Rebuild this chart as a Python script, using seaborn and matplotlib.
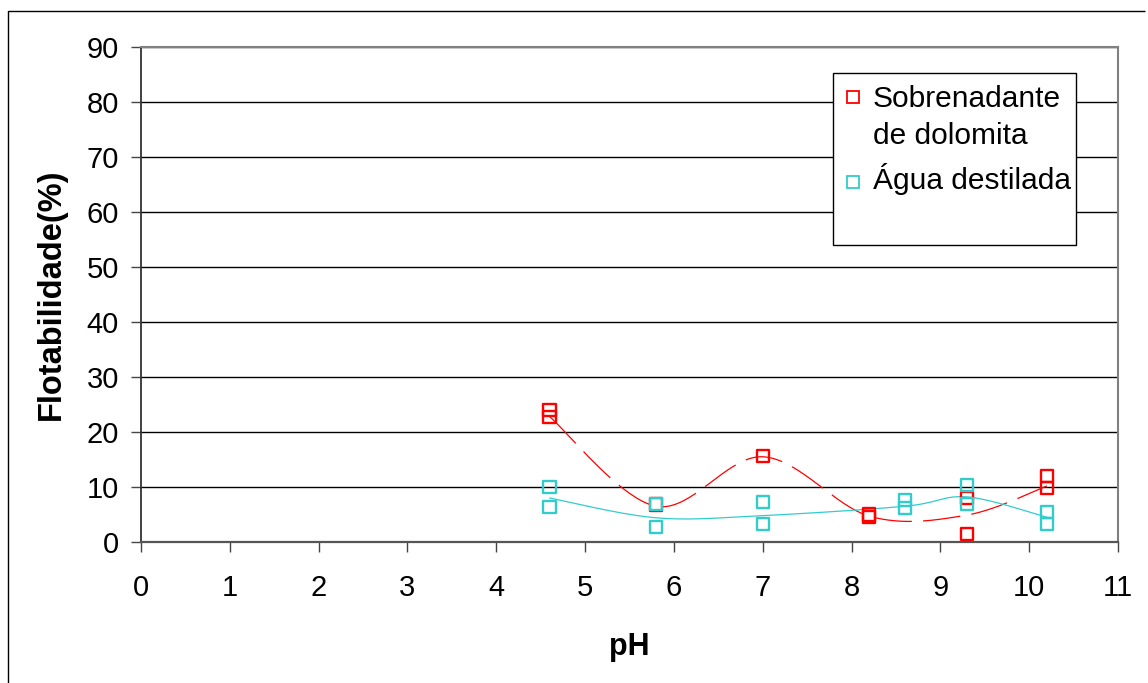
import numpy as np
import pandas as pd
import matplotlib
matplotlib.use("Agg")
import matplotlib.pyplot as plt
from matplotlib.patches import Rectangle
import seaborn as sns

# Measured flotability (%) versus pH
sobrenadante_ph = [4.6, 4.6, 5.8, 7.0, 8.2, 8.2, 9.3, 9.3, 10.2, 10.2]
sobrenadante_flot = [24.0, 22.7, 6.8, 15.6, 5.0, 4.6, 8.0, 1.5, 12.0, 9.8]

agua_ph = [4.6, 4.6, 5.8, 5.8, 7.0, 7.0, 8.6, 8.6, 9.3, 9.3, 10.2, 10.2]
agua_flot = [10.0, 6.3, 6.9, 2.7, 7.3, 3.3, 7.6, 6.2, 10.4, 6.9, 5.5, 3.3]

# Mean curves drawn through each pH level
sobrenadante_curve_ph = [4.6, 5.8, 7.0, 8.2, 9.3, 10.2]
sobrenadante_curve_flot = [22.8, 6.5, 15.5, 4.7, 4.9, 10.2]
agua_curve_ph = [4.6, 5.8, 7.0, 8.6, 9.3, 10.2]
agua_curve_flot = [8.0, 4.4, 4.8, 6.5, 8.2, 4.5]

x_ticks = list(range(0, 12))
y_ticks = list(range(0, 100, 10))

series_lines = [["Sobrenadante", "de dolomita"], ["Água destilada"]]
colors = ["#FF0000", "#33CCCC"]

W, H = 1148, 683


def smooth(xs, ys, per_seg=40):
    """Bezier smoothing through every node (tension 1/6)."""
    p = np.column_stack([xs, ys]).astype(float)
    n = len(p)
    out = []
    t = np.linspace(0, 1, per_seg)[:, None]
    for i in range(n - 1):
        p0 = p[i - 1] if i > 0 else p[i]
        p1 = p[i]
        p2 = p[i + 1]
        p3 = p[i + 2] if i + 2 < n else p[i + 1]
        c1 = p1 + (p2 - p0) / 6.0
        c2 = p2 - (p3 - p1) / 6.0
        seg = ((1 - t) ** 3) * p1 + 3 * ((1 - t) ** 2) * t * c1 + 3 * (1 - t) * t ** 2 * c2 + t ** 3 * p2
        out.append(seg if i == 0 else seg[1:])
    out = np.vstack(out)
    return out[:, 0], out[:, 1]


def fx(px):
    return px / W


def fy(py):
    return 1 - py / H


sns.set_theme(style="white")
plt.rcParams["font.family"] = ["Liberation Sans", "DejaVu Sans"]
plt.rcParams["text.color"] = "black"
plt.rcParams["axes.labelcolor"] = "black"

fig = plt.figure(figsize=(W / 100, H / 100), dpi=100)
fig.patch.set_facecolor("white")
fig.patch.set_linewidth(0)
ax = fig.add_axes([fx(141), fy(542), (1118 - 141) / W, (542 - 47) / H])

# Outer chart frame (left and top edges only; the rest lies past the border)
fig.add_artist(plt.Line2D([fx(7.5), fx(7.5), fx(1145)], [0.0, fy(10.5), fy(10.5)],
                          transform=fig.transFigure, color="black",
                          linewidth=1.0, solid_capstyle="butt", zorder=0))

df_s = pd.DataFrame({"pH": sobrenadante_ph, "flot": sobrenadante_flot})
df_a = pd.DataFrame({"pH": agua_ph, "flot": agua_flot})

# Smoothed curves
sx, sy = smooth(sobrenadante_curve_ph, sobrenadante_curve_flot)
ax.plot(sx, sy, color=colors[0], linewidth=0.9, dashes=(30, 9), zorder=3)
axx, ayy = smooth(agua_curve_ph, agua_curve_flot)
ax.plot(axx, ayy, color=colors[1], linewidth=0.9, zorder=3)

# Markers
sns.scatterplot(data=df_s, x="pH", y="flot", ax=ax, marker="s", s=78,
                facecolor="none", edgecolor=colors[0], linewidth=1.7, zorder=4)
sns.scatterplot(data=df_a, x="pH", y="flot", ax=ax, marker="s", s=78,
                facecolor="none", edgecolor=colors[1], linewidth=1.7, zorder=5)

ax.set_xlim(0, 11)
ax.set_ylim(0, 90)
ax.set_xticks(x_ticks)
ax.set_yticks(y_ticks)
ax.set_xticklabels([str(v) for v in x_ticks], fontsize=21)
ax.set_yticklabels([str(v) for v in y_ticks], fontsize=21)
ax.tick_params(axis="x", direction="out", length=7, width=1, color="#444444",
               labelcolor="black", pad=16, bottom=True)
ax.tick_params(axis="y", direction="out", length=7, width=1, color="#444444",
               labelcolor="black", pad=9, left=True)

ax.yaxis.grid(True, color="black", linewidth=1.0)
ax.xaxis.grid(False)
ax.set_axisbelow(True)

for side in ["top", "right"]:
    ax.spines[side].set_color("#808080")
    ax.spines[side].set_linewidth(1.5)
ax.spines["left"].set_color("#333333")
ax.spines["bottom"].set_color("#555555")
ax.spines["left"].set_linewidth(1.3)
ax.spines["bottom"].set_linewidth(1.6)

ax.set_xlabel("pH", fontsize=22, fontweight="bold", labelpad=22)
ax.set_ylabel("Flotabilidade(%)", fontsize=23.5, fontweight="bold", labelpad=14)

# Legend box with marker keys and labels
fig.patches.append(Rectangle((fx(833), fy(245)), fx(1076) - fx(833), fy(73) - fy(245),
                             transform=fig.transFigure, facecolor="white",
                             edgecolor="black", linewidth=1.0, zorder=6))
marker_y = [97, 182]
baselines = [[107, 144], [189]]
for color, my, lines, bls in zip(colors, marker_y, series_lines, baselines):
    fig.add_artist(plt.Line2D([fx(853)], [fy(my)], transform=fig.transFigure,
                              linestyle="none", marker="s", markersize=8.4,
                              markerfacecolor="none", markeredgecolor=color,
                              markeredgewidth=1.3, zorder=7))
    for line, bl in zip(lines, bls):
        fig.text(fx(873), fy(bl), line, fontsize=21.5, ha="left", va="baseline",
                 color="black", zorder=7)

fig.savefig("out.png", dpi=100, facecolor="white")
